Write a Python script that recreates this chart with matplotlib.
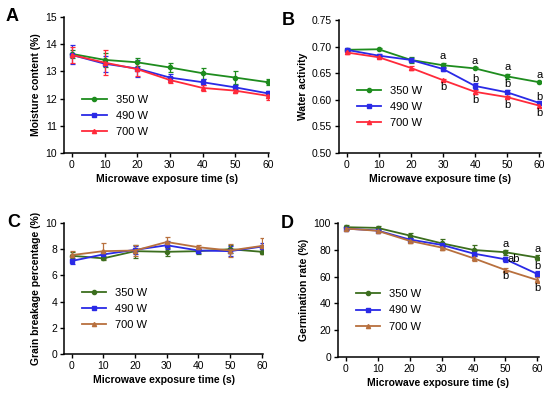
import matplotlib.pyplot as plt
from matplotlib.lines import Line2D

plt.rcParams['font.family'] = ['Liberation Sans', 'DejaVu Sans']

times = [0, 10, 20, 30, 40, 50, 60]
labels = ["350 W", "490 W", "700 W"]

# A - moisture content (%)
moist = [[13.64, 13.42, 13.33, 13.14, 12.93, 12.77, 12.60],
         [13.60, 13.28, 13.10, 12.77, 12.60, 12.41, 12.19],
         [13.60, 13.32, 13.08, 12.68, 12.39, 12.29, 12.10]]
moist_err = [[0.15, 0.25, 0.15, 0.15, 0.2, 0.25, 0.12],
             [0.35, 0.3, 0.3, 0.12, 0.1, 0.1, 0.1],
             [0.3, 0.45, 0.25, 0.1, 0.1, 0.06, 0.15]]

# B - water activity
aw = [[0.694, 0.695, 0.675, 0.665, 0.659, 0.644, 0.633],
      [0.694, 0.683, 0.675, 0.658, 0.626, 0.614, 0.594],
      [0.689, 0.680, 0.660, 0.637, 0.615, 0.605, 0.589]]
aw_err = [[0.002, 0.002, 0.005, 0.005, 0.002, 0.004, 0.002],
          [0.003, 0.003, 0.004, 0.003, 0.005, 0.004, 0.003],
          [0.003, 0.002, 0.004, 0.002, 0.004, 0.002, 0.002]]
aw_letters = [(30, 0.682, "a"), (30, 0.624, "b"),
              (40, 0.673, "a"), (40, 0.639, "b"), (40, 0.600, "b"),
              (50, 0.661, "a"), (50, 0.630, "b"), (50, 0.591, "b"),
              (60, 0.647, "a"), (60, 0.606, "b"), (60, 0.575, "b")]

# C - grain breakage percentage (%)
brk = [[7.5, 7.3, 7.85, 7.8, 7.85, 8.0, 7.8],
       [7.1, 7.6, 7.95, 8.3, 7.9, 7.85, 8.2],
       [7.55, 7.85, 7.9, 8.55, 8.15, 7.9, 8.25]]
brk_err = [[0.3, 0.15, 0.5, 0.3, 0.2, 0.3, 0.2],
           [0.2, 0.3, 0.3, 0.3, 0.2, 0.4, 0.3],
           [0.3, 0.6, 0.4, 0.35, 0.15, 0.5, 0.6]]

# D - germination rate (%)
germ = [[97, 96.5, 90.8, 85, 80, 78.3, 74.3],
        [96, 94.5, 87.8, 83.8, 77.3, 73, 62],
        [96, 94.3, 86.8, 81.8, 73.8, 65, 57.5]]
germ_err = [[1.5, 1.5, 1.5, 3.5, 4, 2, 2],
            [1, 1, 1.5, 1.5, 2, 2, 2.5],
            [1, 1, 1.5, 1.5, 2, 1.5, 2]]
germ_letters = [(50, 84.2, "a"), (52.6, 73, "ab"), (50, 60.5, "b"),
                (60, 81, "a"), (60, 68, "b"), (60, 51.7, "b")]

markers = ["o", "s", "^"]
colors_ab = ["#1e8c1e", "#2a2ae6", "#ff2a3a"]
colors_cd = ["#3c6e1e", "#2a2ae6", "#b8703e"]

fig = plt.figure(figsize=(5.5, 3.97), dpi=100)
axA = fig.add_axes([0.1164, 0.6146, 0.373, 0.343])
axB = fig.add_axes([0.616, 0.6146, 0.367, 0.335])
axC = fig.add_axes([0.1164, 0.1083, 0.362, 0.330])
axD = fig.add_axes([0.6145, 0.1008, 0.365, 0.337])


def panel(ax, data, err, colors, ylim, yticks, ylabel, tag, leg_y, fmt="{:g}"):
    handles = []
    for i in range(3):
        ax.errorbar(times, data[i], yerr=err[i], color=colors[i], marker=markers[i],
                    markersize=3, lw=1.3, elinewidth=0.9, capsize=1.8, capthick=0.9)
        handles.append(Line2D([], [], color=colors[i], marker=markers[i],
                              markersize=3, lw=1.3, label=labels[i]))
    ax.set_xlim(-2.4, 60.4)
    ax.set_ylim(*ylim)
    ax.set_xticks(times)
    ax.set_yticks(yticks)
    ax.set_yticklabels([fmt.format(t) for t in yticks])
    ax.spines['top'].set_visible(False)
    ax.spines['right'].set_visible(False)
    for s in ['left', 'bottom']:
        ax.spines[s].set_linewidth(1.1)
    ax.tick_params(labelsize=7.5, width=1.0, length=3, pad=2)
    ax.set_xlabel("Microwave exposure time (s)", fontsize=7.5, fontweight='bold', labelpad=3)
    ax.set_ylabel(ylabel, fontsize=7.5, fontweight='bold', labelpad=3)
    ax.legend(handles=handles, loc='upper left', bbox_to_anchor=(0.04, leg_y),
              frameon=False, fontsize=8, handlelength=2.2, handletextpad=0.8,
              labelspacing=0.55)
    ax.text(-0.285, 1.0, tag, transform=ax.transAxes, fontsize=13, fontweight='bold',
            ha='left', va='center')


panel(axA, moist, moist_err, colors_ab, (10, 15), [10, 11, 12, 13, 14, 15],
      "Moisture content (%)", "A", 0.50)
panel(axB, aw, aw_err, colors_ab, (0.50, 0.75), [0.50, 0.55, 0.60, 0.65, 0.70, 0.75],
      "Water activity", "B", 0.58, fmt="{:.2f}")
panel(axC, brk, brk_err, colors_cd, (0, 10), [0, 2, 4, 6, 8, 10],
      "Grain breakage percentage (%)", "C", 0.58)
panel(axD, germ, germ_err, colors_cd, (0, 100), [0, 20, 40, 60, 80, 100],
      "Germination rate (%)", "D", 0.58)

for x, y, s in aw_letters:
    axB.text(x, y, s, fontsize=8, ha='center', va='center')
for x, y, s in germ_letters:
    axD.text(x, y, s, fontsize=8, ha='center', va='center')

fig.savefig("out.png", dpi=100)
